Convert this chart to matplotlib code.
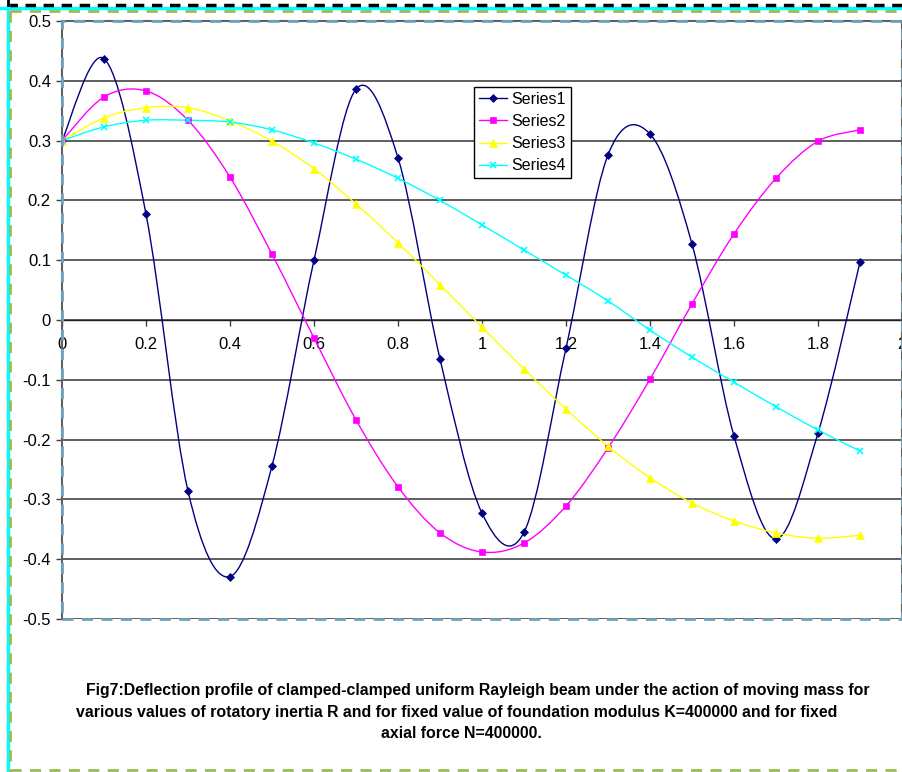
import numpy as np
import matplotlib
matplotlib.use("Agg")
import matplotlib.pyplot as plt
from matplotlib.path import Path
from matplotlib.patches import PathPatch, Rectangle
from matplotlib.lines import Line2D

plt.rcParams['font.family'] = ['Liberation Sans', 'DejaVu Sans']

x_vals = [0.0, 0.1, 0.2, 0.3, 0.4, 0.5, 0.6, 0.7, 0.8, 0.9, 1.0,
          1.1, 1.2, 1.3, 1.4, 1.5, 1.6, 1.7, 1.8, 1.9]
series1 = [0.300, 0.437, 0.177, -0.286, -0.429, -0.244, 0.100, 0.386, 0.271, -0.065, -0.323,
           -0.355, -0.047, 0.276, 0.311, 0.127, -0.194, -0.366, -0.189, 0.097]
series2 = [0.300, 0.373, 0.383, 0.334, 0.239, 0.110, -0.030, -0.167, -0.279, -0.356, -0.388,
           -0.373, -0.311, -0.214, -0.099, 0.027, 0.144, 0.237, 0.299, 0.318]
series3 = [0.300, 0.338, 0.355, 0.355, 0.333, 0.299, 0.253, 0.194, 0.129, 0.059, -0.012,
           -0.082, -0.149, -0.211, -0.264, -0.306, -0.336, -0.356, -0.365, -0.360]
series4 = [0.300, 0.323, 0.334, 0.334, 0.331, 0.318, 0.296, 0.269, 0.237, 0.200, 0.159,
           0.117, 0.075, 0.032, -0.017, -0.062, -0.104, -0.145, -0.184, -0.219]
series_names = ["Series1", "Series2", "Series3", "Series4"]
series_colors = ["#000080", "#FF00FF", "#FFFF00", "#00FFFF"]
series_markers = ["D", "s", "^", "x"]
series_msizes = [4.5, 5, 6, 5]

y_ticks = [0.5, 0.4, 0.3, 0.2, 0.1, 0, -0.1, -0.2, -0.3, -0.4, -0.5]
y_ticklabels = ["0.5", "0.4", "0.3", "0.2", "0.1", "0", "-0.1", "-0.2", "-0.3", "-0.4", "-0.5"]
x_ticks = [0, 0.2, 0.4, 0.6, 0.8, 1.0, 1.2, 1.4, 1.6, 1.8, 2.0]
x_ticklabels = ["0", "0.2", "0.4", "0.6", "0.8", "1", "1.2", "1.4", "1.6", "1.8", "2"]

caption_lines = [
    "Fig7:Deflection profile of clamped-clamped uniform Rayleigh beam under the action of moving mass for",
    "various values of rotatory inertia R and for fixed value of foundation modulus K=400000 and for fixed",
    "axial force N=400000.",
]

W, H = 903, 772
fig = plt.figure(figsize=(W / 100, H / 100), dpi=100)
ax = fig.add_axes([62 / W, (H - 619) / H, (902 - 62) / W, (619 - 21) / H])
ax.set_xlim(0, 2)
ax.set_ylim(-0.5, 0.5)


def smooth_path(xs, ys):
    xs = np.asarray(xs, float)
    ys = np.asarray(ys, float)
    pts = np.column_stack([xs, ys])
    n = len(pts)
    verts = [pts[0]]
    codes = [Path.MOVETO]
    for i in range(n - 1):
        p0 = pts[i - 1] if i > 0 else pts[i]
        p1 = pts[i]
        p2 = pts[i + 1]
        p3 = pts[i + 2] if i + 2 < n else pts[i + 1]
        c1 = p1 + (p2 - p0) / 6.0
        c2 = p2 - (p3 - p1) / 6.0
        verts += [c1, c2, p2]
        codes += [Path.CURVE4] * 3
    return Path(verts, codes)


# gridlines
for yv in y_ticks:
    ax.axhline(yv, color="#333333", lw=1.1, zorder=1)

all_series = [series1, series2, series3, series4]
handles = []
for ys, name, col, mk, ms in zip(all_series, series_names, series_colors, series_markers, series_msizes):
    patch = PathPatch(smooth_path(x_vals, ys), fill=False, edgecolor=col, lw=1.0, zorder=3)
    ax.add_patch(patch)
    ax.plot(x_vals, ys, linestyle="none", marker=mk, color=col, markersize=ms,
            markeredgewidth=1.2 if mk == "x" else 0.5, zorder=4)
    handles.append(Line2D([0], [0], color=col, lw=1.0, marker=mk, markersize=ms,
                          markeredgewidth=1.2 if mk == "x" else 0.5))

# axes
ax.spines["bottom"].set_position(("data", 0))
for s in ["top", "right", "left"]:
    ax.spines[s].set_color("#606060")
    ax.spines[s].set_linewidth(1.5)
ax.spines["bottom"].set_color("#202020")
ax.spines["bottom"].set_linewidth(1.0)
ax.add_patch(Rectangle((0, -0.5), 2, 1, transform=ax.transData, fill=False,
                       edgecolor="#6fa3bd", lw=2.0, linestyle=(0, (4, 3)), zorder=6, clip_on=False))

ax.set_yticks(y_ticks)
ax.set_yticklabels(y_ticklabels, fontsize=12)
ax.set_xticks(x_ticks)
ax.set_xticklabels(x_ticklabels, fontsize=12)
ax.tick_params(axis="y", direction="out", length=4, width=1, color="#404040", pad=4)
ax.tick_params(axis="x", direction="out", length=4, width=1, color="#404040", pad=8)
for lbl in ax.get_xticklabels():
    lbl.set_clip_on(False)

leg = ax.legend(handles, series_names, loc="upper left",
                bbox_to_anchor=((474 - 62) / 840, (619 - 87) / 598),
                fontsize=11.5, frameon=True, fancybox=False, framealpha=1,
                edgecolor="black", handlelength=1.75, handletextpad=0.3,
                borderpad=0.3, labelspacing=0.45, borderaxespad=0)
leg.get_frame().set_linewidth(1.0)
leg.set_zorder(10)

# caption
centers = [478, 457, 461]
ys_cap = [691, 712, 733]
for line, cx, cy in zip(caption_lines, centers, ys_cap):
    fig.text(cx / W, 1 - cy / H, line, ha="center", va="center", fontsize=11.4, fontweight="bold")

# outer decorative borders (figure pixel coordinates)
def fline(xs, ys, **kw):
    fig.add_artist(Line2D([x / W for x in xs], [1 - y / H for y in ys], transform=fig.transFigure, **kw))

fline([0, W], [8, 8], color="#00FFFF", lw=2.5)
fline([7, W], [5, 5], color="black", lw=2.5, linestyle=(0, (3, 2.2)))
fline([7.5, 7.5], [5, H], color="#00FFFF", lw=2.5)
fline([7.5, 7.5], [0, 5], color="black", lw=2.0)
fline([10, W], [11, 11], color="#9bbb59", lw=2.0, linestyle=(0, (4, 3)))
fline([10, 10], [11, H], color="#9bbb59", lw=2.0, linestyle=(0, (4, 3)))
fline([10, W], [770, 770], color="#9bbb59", lw=2.0, linestyle=(0, (4, 3)))

fig.savefig("out.png", dpi=100)
